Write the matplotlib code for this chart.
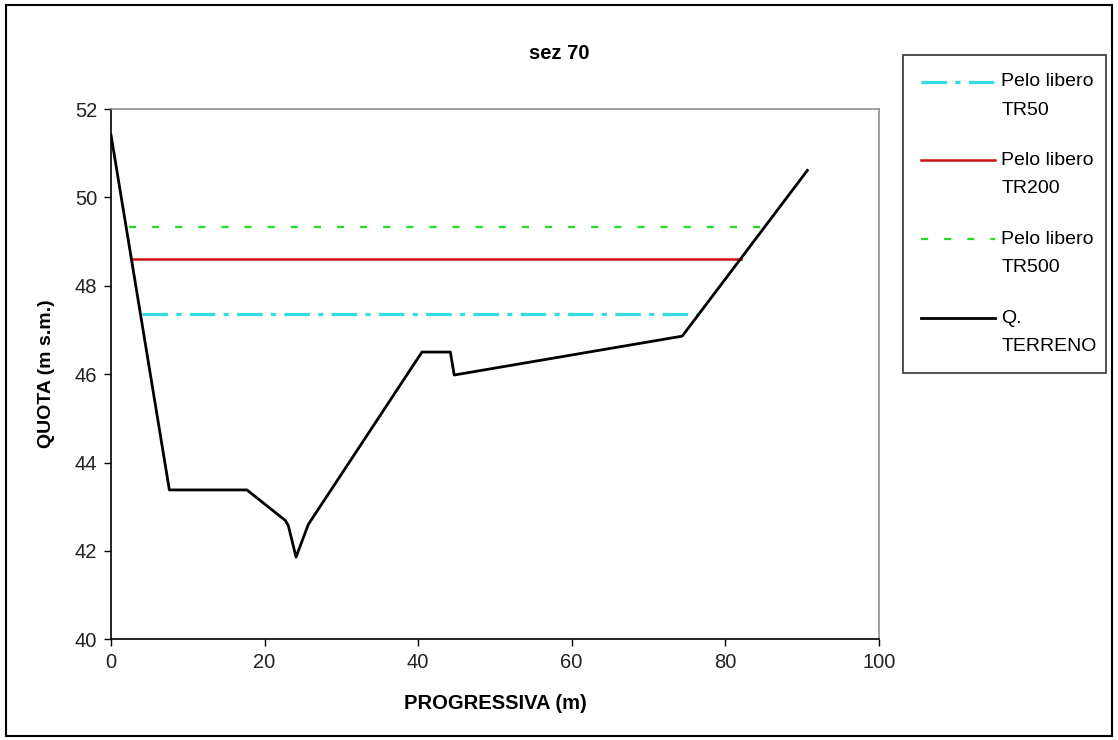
"""Sezione 70: profilo del terreno e pelo libero per TR50, TR200, TR500."""

import matplotlib
matplotlib.use("Agg")
import matplotlib.pyplot as plt
import numpy as np
from matplotlib.legend_handler import HandlerLine2D
from matplotlib.patches import Rectangle

plt.rcParams['font.family'] = ['Liberation Sans', 'DejaVu Sans']

# Profilo del terreno (progressiva m, quota m s.m.)
terreno_x = [0.0, 7.6, 17.7, 22.7, 23.1, 24.1, 25.7, 40.5, 44.2, 44.7, 74.4, 90.7]
terreno_y = [51.41, 43.38, 43.38, 42.69, 42.57, 41.86, 42.6, 46.5, 46.5, 45.98, 46.86, 50.61]

# Pelo libero: quota e estensione (da sponda a sponda)
tr50_y, tr50_x = 47.37, [4.0, 76.6]
tr200_y, tr200_x = 48.61, [2.6, 82.0]
tr500_y, tr500_x = 49.34, [2.3, 85.0]

xticks = [0, 20, 40, 60, 80, 100]
yticks = [40, 42, 44, 46, 48, 50, 52]


class FirstLineHandler(HandlerLine2D):
    """Legend handle drawn next to the first line of a two-line label."""

    def create_artists(self, legend, orig_handle, xdescent, ydescent,
                       width, height, fontsize, trans):
        artists = super().create_artists(legend, orig_handle, xdescent, ydescent,
                                         width, height, fontsize, trans)
        for a in artists:
            a.set_ydata(np.asarray(a.get_ydata()) + 0.72 * fontsize)
        return artists


fig = plt.figure(figsize=(11.18, 7.40), dpi=100)
ax = fig.add_axes([0.0993, 0.1361, 0.6867, 0.7166])

# Plot the water levels
ax.plot(tr50_x, [tr50_y] * 2, color='#33dddd', lw=2.3,
        dashes=(8, 2.6, 1.6, 2.6), label='Pelo libero\nTR50')
ax.plot(tr200_x, [tr200_y] * 2, color='#cc1111', lw=1.8,
        label='Pelo libero\nTR200')
ax.plot(tr500_x, [tr500_y] * 2, color='#22dd22', lw=1.6,
        dashes=(3.2, 7.2), label='Pelo libero\nTR500')

# Plot the ground profile
ax.plot(terreno_x, terreno_y, color='black', lw=2.0, label='Q.\nTERRENO')

ax.set_xlim(0, 100)
ax.set_ylim(40, 52)
ax.set_xticks(xticks)
ax.set_yticks(yticks)
ax.tick_params(direction='out', length=5, width=1.0, labelsize=14.5,
               labelcolor='#222222', pad=5)

for side in ['top', 'right']:
    ax.spines[side].set_color('#909090')
    ax.spines[side].set_linewidth(1.2)
for side in ['left', 'bottom']:
    ax.spines[side].set_color('black')
    ax.spines[side].set_linewidth(1.2)

ax.set_xlabel('PROGRESSIVA (m)', fontsize=14.5, fontweight='bold', labelpad=16)
ax.set_ylabel('QUOTA (m s.m.)', fontsize=14, fontweight='bold', labelpad=14)
fig.text(0.5, 0.928, 'sez 70', ha='center', va='center', fontsize=14.5,
         fontweight='bold')

leg = fig.legend(loc='upper left', bbox_to_anchor=(0.8077, 0.0783, 0.1813, 0.8474),
                 mode='expand', fontsize=14, frameon=True, fancybox=False,
                 handlelength=3.8, handletextpad=0.3, labelspacing=1.73,
                 borderpad=0.95, borderaxespad=0.0,
                 handler_map={plt.Line2D: FirstLineHandler()})
for t in leg.get_texts():
    t.set_linespacing(1.85)
leg.get_frame().set_edgecolor('black')
leg.get_frame().set_linewidth(1.2)

# Outer chart border
fig.patches.append(Rectangle((0.005, 0.005), 0.99, 0.988, transform=fig.transFigure,
                             fill=False, edgecolor='black', lw=1.5))

fig.savefig('out.png', dpi=100)
plt.close(fig)
